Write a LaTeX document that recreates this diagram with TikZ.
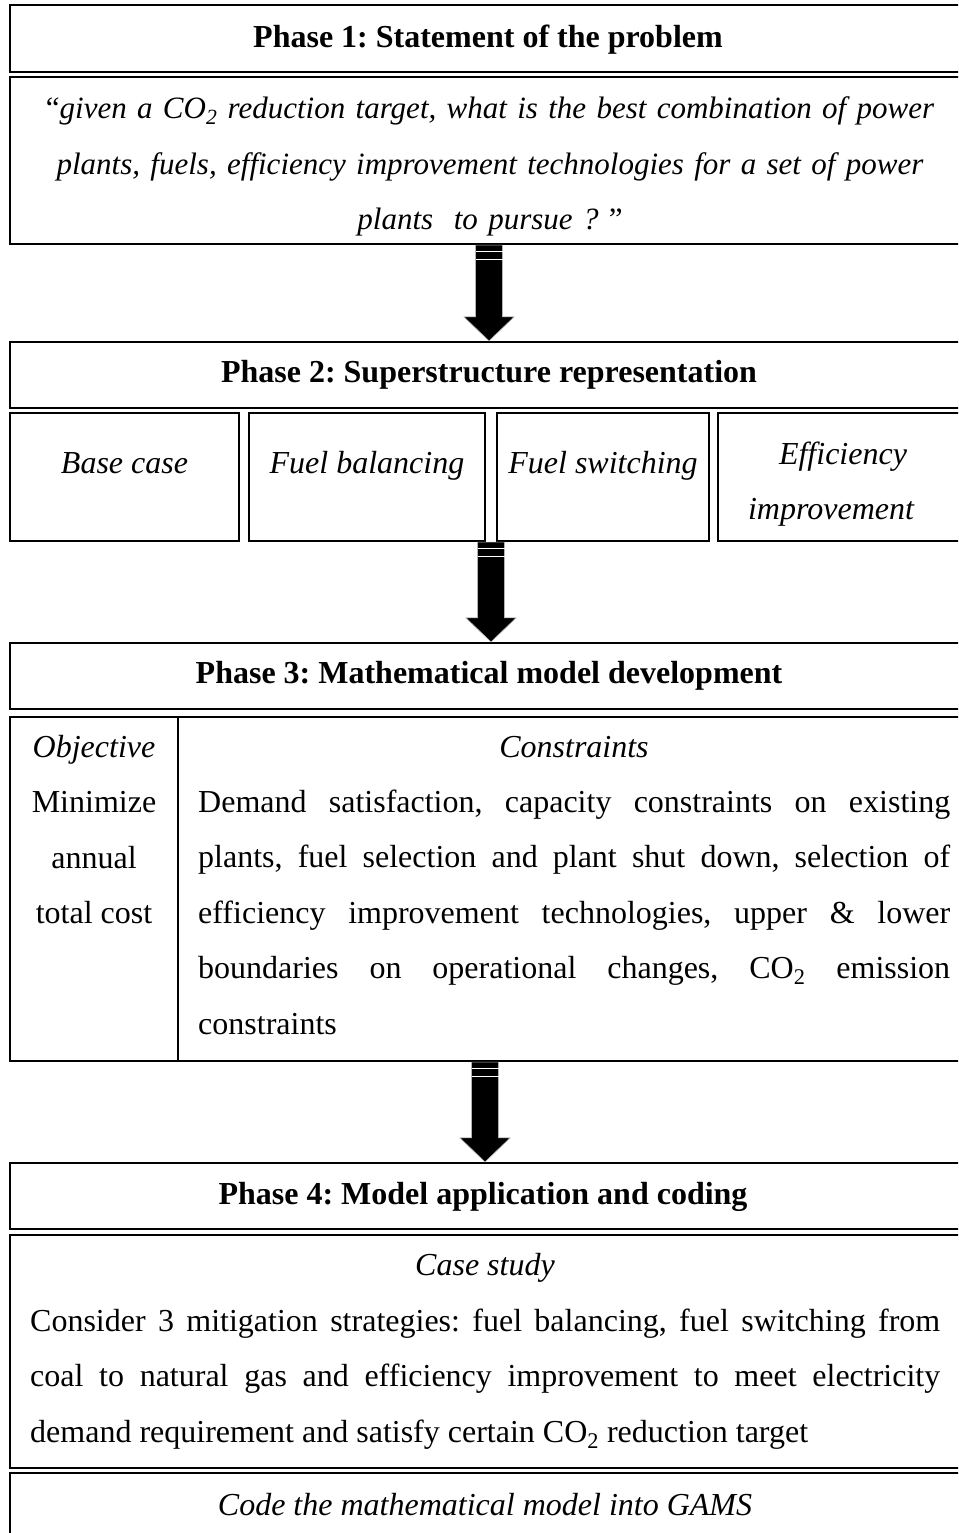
\documentclass[tikz,border=0pt]{standalone}
\usepackage{fontspec}
\setmainfont{Liberation Serif}
\usetikzlibrary{calc}
\frenchspacing
\tikzset{
  box/.style={draw=black, line width=2.2pt, rectangle, inner sep=0pt, align=center},
  lbl/.style={inner sep=0pt, anchor=base},
  para/.style={inner sep=0pt, anchor=base west, align=justify},
}
\newcommand{\blockarrow}[2]{%
  \fill[black, draw=gray!60, line width=0.6pt] let \p1=(#1), \p2=(#2) in
    (\x1-13.5pt,\y1) -- (\x1-13.5pt,\y2+24pt) -- (\x1-25pt,\y2+24pt) -- (\x1,\y2)
    -- (\x1+25pt,\y2+24pt) -- (\x1+13.5pt,\y2+24pt) -- (\x1+13.5pt,\y1) -- cycle;
  \draw[white, line width=1pt] let \p1=(#1) in
    (\x1-13.5pt,\y1-6pt) -- (\x1+13.5pt,\y1-6pt)
    (\x1-13.5pt,\y1-14pt) -- (\x1+13.5pt,\y1-14pt);
}
\begin{document}
\begin{tikzpicture}[x=1pt, y=-1pt, font=\fontsize{32}{55.5}\selectfont]
\useasboundingbox (0,0) rectangle (958,1533);
\clip (0,0) rectangle (958,1533);
\fill[white] (0,0) rectangle (958,1533);

% Phase 1
\node[box, minimum width=958pt, minimum height=67pt] (p1head) at (489,38.5) {};
\node[lbl] (p1htxt) at (488,48) {\bfseries Phase 1: Statement of the problem};
\node[box, minimum width=958pt, minimum height=167pt] (p1txt) at (489,160.5) {};
\node[lbl, text width=940pt, align=center, font=\fontsize{31}{55.5}\selectfont] (p1q) at (490,119)
  {“\textit{given a CO\textsubscript{2} reduction target, what is the best combination of power}\\
   \textit{plants, fuels, efficiency improvement technologies for a set of power}\\
   \textit{plants\ \ to pursue ?} ”};

% Phase 2
\node[box, minimum width=958pt, minimum height=66pt] (p2head) at (489,375)
  {\bfseries Phase 2: Superstructure representation};
\node[box, minimum width=229pt, minimum height=128pt] (bc) at (124.5,477) {};
\node[box, minimum width=236pt, minimum height=128pt] (fb) at (367,477) {};
\node[box, minimum width=212pt, minimum height=128pt] (fs) at (603,477) {};
\node[box, minimum width=250pt, minimum height=128pt] (ei) at (843,477) {};
\node[lbl] (tbc) at (124.5,473) {\itshape Base case};
\node[lbl] (tfb) at (367,473) {\itshape Fuel balancing};
\node[lbl] (tfs) at (603,473) {\itshape Fuel switching};
\node[lbl] (tei1) at (843,464) {\itshape Efficiency};
\node[lbl] (tei2) at (831,519) {\itshape improvement};

% Phase 3
\node[box, minimum width=958pt, minimum height=66pt] (p3head) at (489,676)
  {\bfseries Phase 3: Mathematical model development};
\node[box, minimum width=958pt, minimum height=344pt] (p3body) at (489,889) {};
\draw[line width=2.2pt] (p3body.north west -| 178,0) coordinate (dtop) -- (p3body.south west -| 178,0) coordinate (dbot);
\node[lbl] (obj) at (94,757) {\itshape Objective};
\node[lbl] (min) at (94,812) {Minimize};
\node[lbl] (ann) at (94,868) {annual};
\node[lbl] (tot) at (94,923) {total cost};
\node[lbl] (con) at (574,757) {\itshape Constraints};
\node[para, text width=752pt] (cons) at (198,812)
  {Demand satisfaction, capacity constraints on existing\linebreak
   plants, fuel selection and plant shut down, selection of\linebreak
   efficiency improvement technologies, upper \& lower\linebreak
   boundaries on operational changes, CO\textsubscript{2} emission\linebreak
   constraints};

% Phase 4
\node[box, minimum width=958pt, minimum height=66pt] (p4head) at (489,1196) {};
\node[lbl] (p4htxt) at (483,1204) {\bfseries Phase 4: Model application and coding};
\node[box, minimum width=958pt, minimum height=233pt] (case) at (489,1351.5) {};
\node[lbl] (cst) at (485,1275) {\itshape Case study};
\node[para, text width=910pt] (ctxt) at (30,1331)
  {Consider 3 mitigation strategies: fuel balancing, fuel switching from\linebreak
   coal to natural gas and efficiency improvement to meet electricity\linebreak
   demand requirement and satisfy certain CO\textsubscript{2} reduction target};
\node[box, minimum width=958pt, minimum height=72pt] (gams) at (489,1509) {};
\node[lbl] (gtxt) at (485,1515) {\itshape Code the mathematical model into GAMS};

% Arrows
\blockarrow{p1txt.south}{p2head.north}
\coordinate (a2) at ($(fb.south east)!0.5!(fs.south west)$);
\blockarrow{a2}{p3head.north}
\coordinate (a3) at ($(p3body.south)+(-4,0)$);
\blockarrow{a3}{p4head.north}
\end{tikzpicture}
\end{document}
